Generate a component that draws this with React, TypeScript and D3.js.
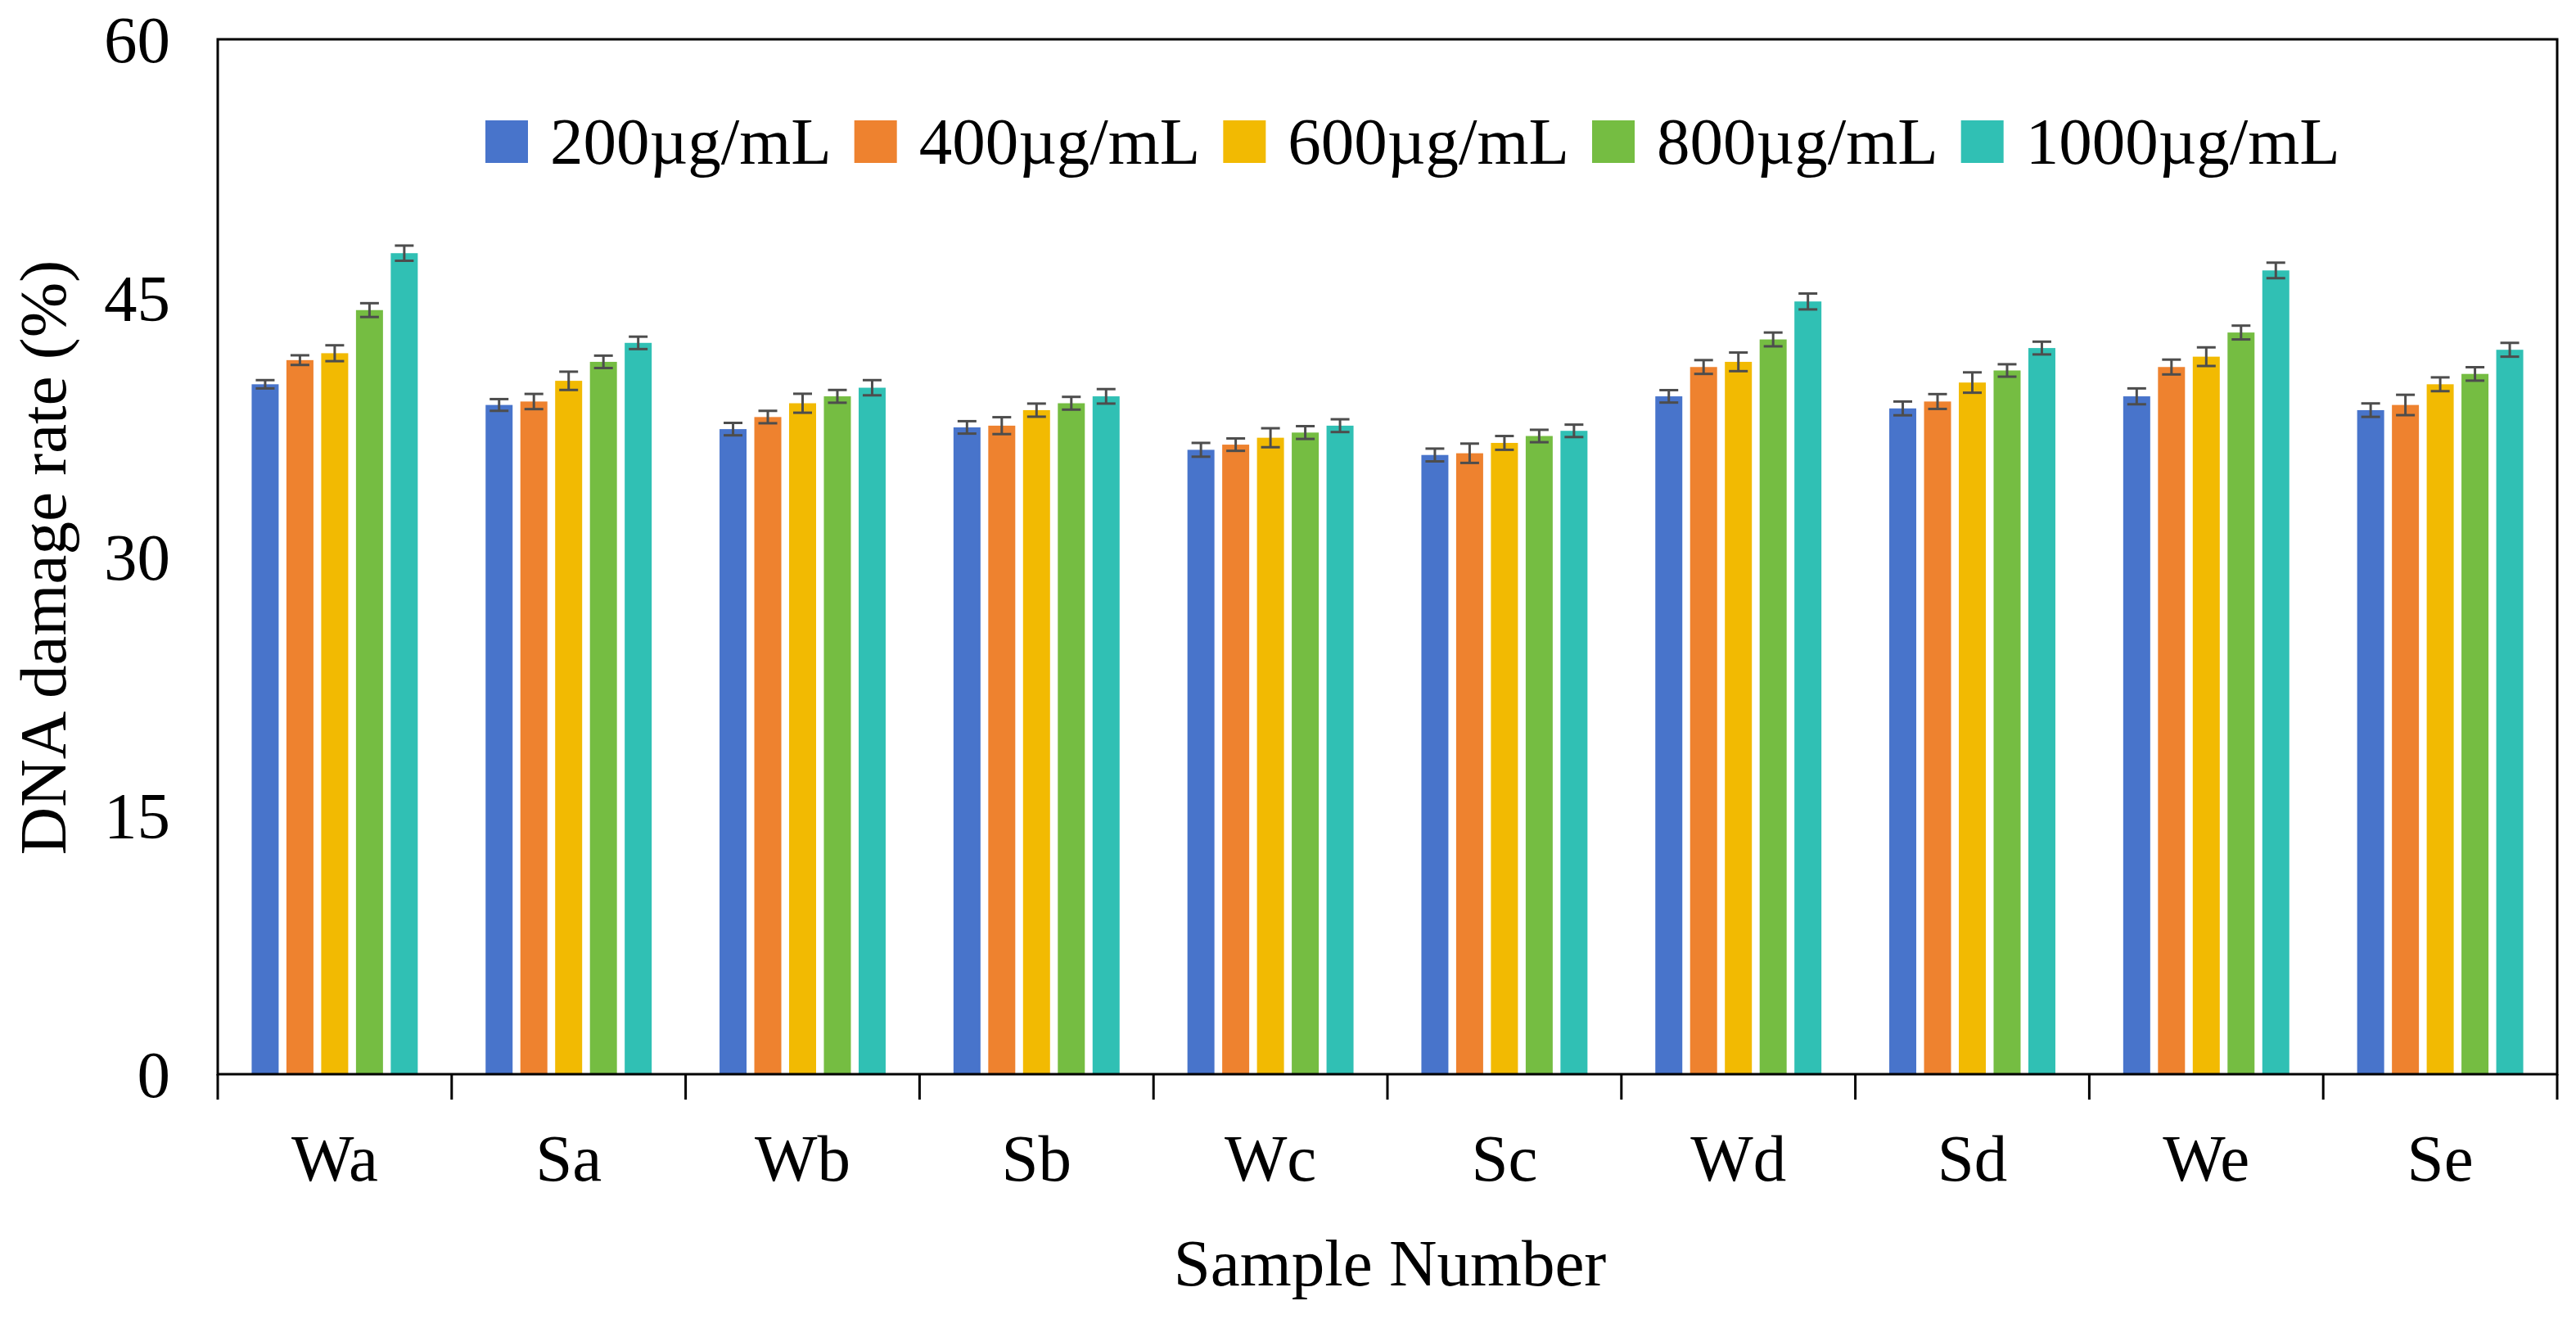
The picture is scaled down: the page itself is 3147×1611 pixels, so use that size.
import { useEffect, useRef } from 'react';
import * as React from 'react';
import * as d3 from 'd3';

const samples = ['Wa', 'Sa', 'Wb', 'Sb', 'Wc', 'Sc', 'Wd', 'Sd', 'We', 'Se'];
const concentrations = ['200µg/mL', '400µg/mL', '600µg/mL', '800µg/mL', '1000µg/mL'];
const colors = ['#4874CB', '#EE822F', '#F2BA02', '#75BD42', '#30C0B4'];

const values200 = [40.0, 38.8, 37.4, 37.5, 36.2, 35.9, 39.3, 38.6, 39.3, 38.5];
const values400 = [41.4, 39.0, 38.1, 37.6, 36.5, 36.0, 41.0, 39.0, 41.0, 38.8];
const values600 = [41.8, 40.2, 38.9, 38.5, 36.9, 36.6, 41.3, 40.1, 41.6, 40.0];
const values800 = [44.3, 41.3, 39.3, 38.9, 37.2, 37.0, 42.6, 40.8, 43.0, 40.6];
const values1000 = [47.6, 42.4, 39.8, 39.3, 37.6, 37.3, 44.8, 42.1, 46.6, 42.0];

const err200 = [0.24, 0.34, 0.36, 0.36, 0.40, 0.37, 0.36, 0.40, 0.46, 0.39];
const err400 = [0.28, 0.44, 0.36, 0.49, 0.36, 0.56, 0.40, 0.43, 0.43, 0.59];
const err600 = [0.46, 0.53, 0.55, 0.38, 0.55, 0.40, 0.54, 0.59, 0.54, 0.40];
const err800 = [0.40, 0.36, 0.37, 0.37, 0.37, 0.36, 0.40, 0.36, 0.40, 0.39];
const err1000 = [0.44, 0.36, 0.44, 0.42, 0.37, 0.36, 0.46, 0.37, 0.45, 0.40];

const yTicks = [0, 15, 30, 45, 60];

const seriesValues = [values200, values400, values600, values800, values1000];
const seriesErrors = [err200, err400, err600, err800, err1000];

const FONT = "'Liberation Serif', 'Times New Roman', serif";

const App: React.FC = () => {
    const ref = useRef<SVGSVGElement>(null);

    useEffect(() => {
        const svgWidth = 3147, svgHeight = 1611;
        const left = 266, right = 3124, top = 48, bottom = 1312;

        const svg = d3.select(ref.current)
            .attr('width', svgWidth)
            .attr('height', svgHeight);
        svg.selectAll('*').remove();

        const x0 = d3.scaleBand<string>()
            .domain(samples)
            .range([left, right])
            .paddingInner(0.29)
            .paddingOuter(0.145);

        const x1 = d3.scaleBand<string>()
            .domain(concentrations)
            .range([0, x0.bandwidth()])
            .paddingInner(0.2235);

        const y = d3.scaleLinear()
            .domain([0, 60])
            .range([bottom, top]);

        // bars + error bars
        concentrations.forEach((c, si) => {
            const rows = samples.map((s, i) => ({ s, v: seriesValues[si][i], e: seriesErrors[si][i] }));
            const g = svg.append('g');
            g.selectAll('rect')
                .data(rows)
                .enter()
                .append('rect')
                .attr('x', d => x0(d.s)! + x1(c)!)
                .attr('y', d => y(d.v))
                .attr('width', x1.bandwidth())
                .attr('height', d => y(0) - y(d.v))
                .attr('fill', colors[si]);

            const eg = svg.append('g')
                .attr('stroke', '#4d4d4d')
                .attr('stroke-width', 3);
            const cx = (d: { s: string }) => x0(d.s)! + x1(c)! + x1.bandwidth() / 2;
            const capW = 11.5;
            rows.forEach(d => {
                eg.append('line')
                    .attr('x1', cx(d)).attr('x2', cx(d))
                    .attr('y1', y(d.v + d.e)).attr('y2', y(d.v - d.e));
                eg.append('line')
                    .attr('x1', cx(d) - capW).attr('x2', cx(d) + capW)
                    .attr('y1', y(d.v + d.e)).attr('y2', y(d.v + d.e));
                eg.append('line')
                    .attr('x1', cx(d) - capW).attr('x2', cx(d) + capW)
                    .attr('y1', y(d.v - d.e)).attr('y2', y(d.v - d.e));
            });
        });

        // plot border
        svg.append('rect')
            .attr('x', left)
            .attr('y', top)
            .attr('width', right - left)
            .attr('height', bottom - top)
            .attr('fill', 'none')
            .attr('stroke', '#000')
            .attr('stroke-width', 3);

        // category boundary ticks
        const gap = x0.step() - x0.bandwidth();
        const bounds = samples.map(s => x0(s)! - gap / 2).concat([x0(samples[samples.length - 1])! + x0.bandwidth() + gap / 2]);
        svg.append('g')
            .selectAll('line')
            .data(bounds)
            .enter()
            .append('line')
            .attr('x1', d => d).attr('x2', d => d)
            .attr('y1', bottom).attr('y2', bottom + 31)
            .attr('stroke', '#000')
            .attr('stroke-width', 3);

        // y axis labels
        const yAxis = svg.append('g')
            .attr('transform', `translate(${left},0)`)
            .call(d3.axisLeft(y).tickValues(yTicks).tickSize(0).tickPadding(58));
        yAxis.select('.domain').remove();
        yAxis.selectAll('text')
            .attr('font-family', FONT)
            .attr('font-size', 81)
            .attr('fill', '#000')
            .attr('dy', '0.34em');

        // x axis labels
        const xAxis = svg.append('g')
            .attr('transform', `translate(0,${bottom})`)
            .call(d3.axisBottom(x0).tickSize(0).tickPadding(72));
        xAxis.select('.domain').remove();
        xAxis.selectAll('text')
            .attr('font-family', FONT)
            .attr('font-size', 81)
            .attr('fill', '#000');

        // axis titles
        svg.append('text')
            .attr('transform', `translate(80,681) rotate(-90)`)
            .attr('text-anchor', 'middle')
            .attr('font-family', FONT)
            .attr('font-size', 81)
            .text('DNA damage rate (%)');

        svg.append('text')
            .attr('x', 1698)
            .attr('y', 1570)
            .attr('text-anchor', 'middle')
            .attr('font-family', FONT)
            .attr('font-size', 81)
            .text('Sample Number');

        // legend
        const legend = svg.append('g');
        let lx = 593;
        concentrations.forEach((c, i) => {
            legend.append('rect')
                .attr('x', lx)
                .attr('y', 147)
                .attr('width', 52)
                .attr('height', 52)
                .attr('fill', colors[i]);
            const t = legend.append('text')
                .attr('x', lx + 52 + 27)
                .attr('y', 200)
                .attr('font-family', FONT)
                .attr('font-size', 81)
                .text(c);
            const w = (t.node() as SVGTextElement).getComputedTextLength();
            lx += 52 + 27 + w + 28;
        });
    }, []);

    return <svg ref={ref} style={{ position: 'absolute', left: 0, top: 0, display: 'block' }} />;
};

export default App;
